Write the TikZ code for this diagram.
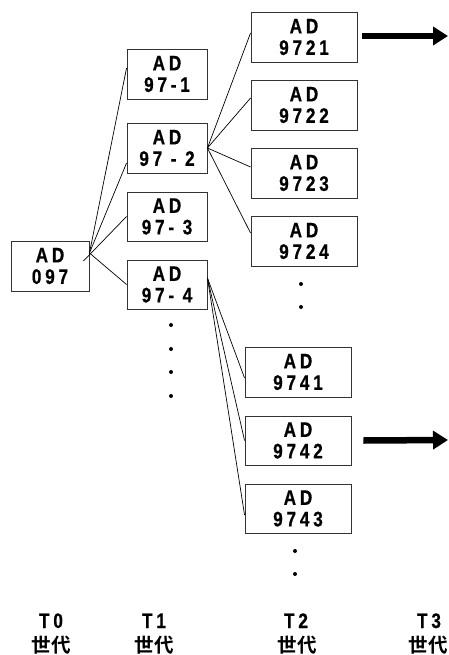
\documentclass[tikz,border=0pt]{standalone}
\usepackage{fontspec}
\newfontfamily\lab{Liberation Sans Bold}[FakeStretch=0.82,LetterSpace=18,FakeBold=0.6]
\newfontfamily\cjk{Noto Sans CJK JP Bold}
\usetikzlibrary{arrows.meta,calc}
\begin{document}
\begin{tikzpicture}[x=1pt,y=-1pt,
  box/.style={draw=black!80, line width=0.9pt, fill=white, inner sep=0pt,
    minimum height=50pt, align=center,
    font=\lab\fontsize{21}{21.5}\selectfont},
  tone/.style={box, minimum width=80pt},
  ttwo/.style={box, minimum width=106pt},
  conn/.style={draw, line width=0.7pt},
  dotn/.style={circle, fill, inner sep=0pt, minimum size=4pt},
  bigarrow/.style={line width=6.5pt, -{Triangle[length=15pt,width=18pt]}},
  tlab/.style={anchor=base, inner sep=0pt, font=\lab\fontsize{21}{21.5}\selectfont},
  glab/.style={inner sep=0pt, font=\cjk\fontsize{19.5}{20}\selectfont}]
\useasboundingbox (0,0) rectangle (448,655);
% T0
\node[box, minimum width=78pt] (r) at (50,266) {AD\\097};
% T1
\node[tone] (a1) at (167,74) {AD\\97-1};
\node[tone] (a2) at (167,148) {AD\\97 - 2};
\node[tone, minimum height=49pt] (a3) at (167,216.5) {AD\\97- 3};
\node[tone, minimum height=49pt] (a4) at (167,284.5) {AD\\97- 4};
% T2 upper
\node[ttwo] (b1) at (304,37) {AD\\9721};
\node[ttwo] (b2) at (304,105) {AD\\9722};
\node[ttwo] (b3) at (304,173) {AD\\9723};
\node[ttwo] (b4) at (304,241) {AD\\9724};
% T2 lower
\node[ttwo] (c1) at (298,372) {AD\\9741};
\node[ttwo, minimum height=49pt] (c2) at (298,440.5) {AD\\9742};
\node[ttwo, minimum height=49pt] (c3) at (298,508.5) {AD\\9743};
% connectors T0 -> T1
\draw[conn] ([yshift=13pt]r.east) -- ([yshift=6pt]a1.west);
\draw[conn] ([yshift=13pt]r.east) -- ([yshift=-15pt]a2.west);
\draw[conn] ([shift={(-6pt,5pt)}]r.east) -- (a3.west);
\draw[conn] ([yshift=13pt]r.east) -- (a4.west);
% T1 -> T2
\draw[conn] (a2.east) -- ([yshift=4pt]b1.west);
\draw[conn] (a2.east) -- ([yshift=7pt]b2.west);
\draw[conn] (a2.east) -- ([yshift=6pt]b3.west);
\draw[conn] (a2.east) -- ([yshift=8pt]b4.west);
\draw[conn] ([yshift=6.5pt]a4.east) -- ([yshift=-6pt]c1.west);
\draw[conn] ([yshift=6.5pt]a4.east) -- (c2.west);
\draw[conn] ([yshift=6.5pt]a4.east) -- ([yshift=-6.5pt]c3.west);
% dots
\node[dotn] (d1) at (171,325) {};
\node[dotn] (d2) at (171,349) {};
\node[dotn] (d3) at (171,372) {};
\node[dotn] (d4) at (171,396) {};
\node[dotn] (d5) at (301,284) {};
\node[dotn] (d6) at (301,307) {};
\node[dotn] (d7) at (295,551) {};
\node[dotn] (d8) at (295,574) {};
% arrows to T3
\coordinate (e1) at (448,36);
\coordinate (e2) at (448,440);
\draw[bigarrow] ([shift={(5pt,1pt)}]b1.east) -- (e1);
\draw[bigarrow] ([xshift=12pt]c2.east) -- (e2);
% generation labels
\node[tlab] (t0) at (51,628) {T0};
\node[tlab] (t1) at (154,628) {T1};
\node[tlab] (t2) at (296,628) {T2};
\node[tlab] (t3) at (429,628) {T3};
\node[glab] (g0) at (51,645) {世代};
\node[glab] (g1) at (154,645) {世代};
\node[glab] (g2) at (297,645) {世代};
\node[glab] (g3) at (428,645) {世代};
\end{tikzpicture}
\end{document}
